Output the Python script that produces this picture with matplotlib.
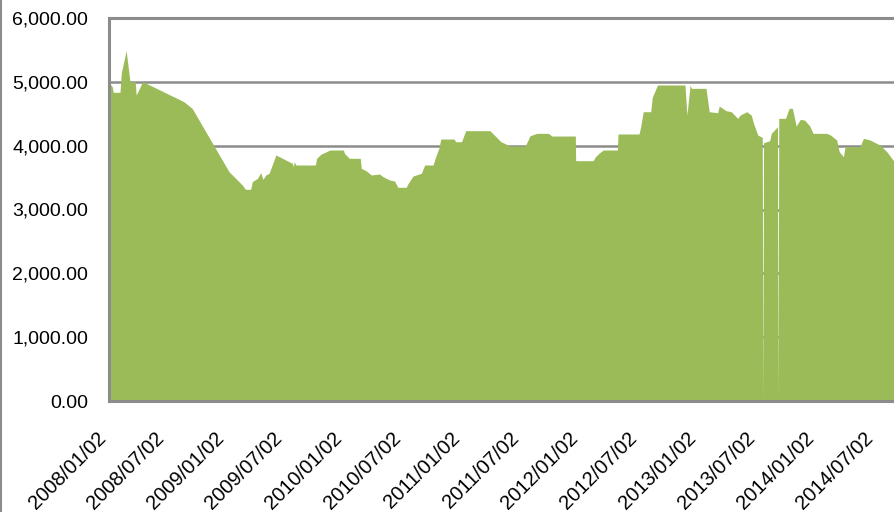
import matplotlib
matplotlib.use("Agg")
import matplotlib.pyplot as plt
import matplotlib.dates as mdates
from matplotlib.lines import Line2D
from matplotlib.ticker import FuncFormatter, MultipleLocator
import numpy as np
import pandas as pd

dates = [
    "2008-01-02", "2008-01-11", "2008-01-14", "2008-02-04", "2008-02-08", "2008-02-23",
    "2008-03-06", "2008-03-22", "2008-03-25", "2008-04-14", "2008-08-19", "2008-09-14",
    "2009-01-06", "2009-02-16", "2009-02-26", "2009-03-14", "2009-03-19", "2009-04-04",
    "2009-04-14", "2009-04-21", "2009-04-30", "2009-05-10", "2009-05-31", "2009-07-21",
    "2009-07-24", "2009-07-27", "2009-08-01", "2009-09-30", "2009-10-04", "2009-10-17",
    "2009-11-14", "2009-12-26", "2009-12-29", "2010-01-13", "2010-02-16", "2010-02-19",
    "2010-03-06", "2010-03-22", "2010-04-17", "2010-04-27", "2010-05-18", "2010-06-02",
    "2010-06-12", "2010-07-08", "2010-07-13", "2010-07-29", "2010-08-24", "2010-09-03",
    "2010-09-29", "2010-10-07", "2010-10-17", "2010-10-23", "2010-12-03", "2010-12-08",
    "2010-12-26", "2011-01-08", "2011-03-24", "2011-04-03", "2011-04-27", "2011-05-25",
    "2011-07-11", "2011-07-26", "2011-08-16", "2011-09-21", "2011-10-01", "2011-12-13",
    "2011-12-14", "2012-02-06", "2012-02-13", "2012-02-24", "2012-03-08", "2012-04-21",
    "2012-04-23", "2012-06-27", "2012-07-02", "2012-07-10", "2012-08-02", "2012-08-07",
    "2012-08-23", "2012-11-16", "2012-11-22", "2012-12-02", "2012-12-06", "2013-01-20",
    "2013-01-30", "2013-02-25", "2013-03-02", "2013-03-23", "2013-04-08", "2013-04-28",
    "2013-05-06", "2013-05-26", "2013-06-09", "2013-06-16", "2013-06-29", "2013-07-13",
    "2013-07-15", "2013-07-17", "2013-08-05", "2013-08-10", "2013-08-29", "2013-08-31",
    "2013-09-02", "2013-09-23", "2013-10-04", "2013-10-14", "2013-10-26", "2013-11-08",
    "2013-11-21", "2013-12-07", "2013-12-17", "2014-01-28", "2014-02-09", "2014-02-28",
    "2014-03-08", "2014-03-21", "2014-03-26", "2014-05-11", "2014-05-22", "2014-06-11",
    "2014-07-12", "2014-08-02", "2014-09-02",
]
values = [
    4977, 4925, 4836, 4836, 5138, 5488,
    5003, 5003, 4794, 5003, 4690, 4585,
    3593, 3384, 3316, 3316, 3436, 3488,
    3577, 3473, 3541, 3567, 3854, 3723,
    3670, 3749, 3697, 3697, 3802, 3865,
    3932, 3932, 3880, 3802, 3802, 3645,
    3608, 3541, 3556, 3514, 3462, 3447,
    3348, 3348, 3400, 3525, 3567, 3697,
    3697, 3827, 3958, 4104, 4104, 4062,
    4062, 4235, 4235, 4183, 4062, 3995,
    3995, 4156, 4193, 4193, 4151, 4151,
    3765, 3765, 3827, 3880, 3932, 3932,
    4183, 4183, 4297, 4532, 4532, 4758,
    4950, 4950, 4480, 4950, 4898, 4898,
    4532, 4516, 4621, 4548, 4532, 4428,
    4480, 4532, 4480, 4350, 4167, 4130,
    0, 4046, 4078, 4193, 4297, 0,
    4428, 4428, 4585, 4585, 4308, 4413,
    4400, 4308, 4193, 4193, 4167, 4089,
    3906, 3827, 3984, 3984, 4115, 4089,
    4010, 3906, 3697,
]
tick_dates = ["2008-01-02", "2008-07-02", "2009-01-02", "2009-07-02", "2010-01-02",
              "2010-07-02", "2011-01-02", "2011-07-02", "2012-01-02", "2012-07-02",
              "2013-01-02", "2013-07-02", "2014-01-02", "2014-07-02"]
tick_labels = [d.replace("-", "/") for d in tick_dates]

x = pd.to_datetime(dates)
y = np.array(values, dtype=float)

fig = plt.figure(figsize=(8.95, 5.12), dpi=100)
ax = fig.add_axes([109 / 895, 1 - 401 / 512, 1 - 109 / 895 + 0.002, (401 - 18) / 512])

ax.fill_between(x, 0, y, color="#9BBB59", linewidth=0, zorder=2)

ax.set_ylim(0, 6000)
ax.set_xlim(pd.Timestamp("2008-01-01"), pd.Timestamp("2014-09-02"))
ax.yaxis.set_major_locator(MultipleLocator(1000))
ax.yaxis.set_major_formatter(FuncFormatter(lambda v, p: f"{v:,.2f}"))
ax.grid(axis="y", color="#8c8c8c", linewidth=1.8, zorder=0)
ax.set_axisbelow(True)

ax.set_xticks(pd.to_datetime(tick_dates))
ax.set_xticklabels(tick_labels, rotation=45, ha="right", va="top",
                   fontsize=14.5, family="Liberation Sans")
for lab in ax.get_yticklabels():
    lab.set_family("Liberation Sans")
    lab.set_fontsize(14)

ax.tick_params(axis="y", length=0, pad=15)
ax.tick_params(axis="x", length=0, pad=20)

for side in ["left", "bottom", "top"]:
    ax.spines[side].set_color("#8c8c8c")
    ax.spines[side].set_linewidth(2.2)
ax.spines["right"].set_visible(False)

fig.add_artist(Line2D([0.001, 0.001], [0, 1], color="#8c8c8c", linewidth=1.5,
                      transform=fig.transFigure))

fig.savefig("out.png", dpi=100)
